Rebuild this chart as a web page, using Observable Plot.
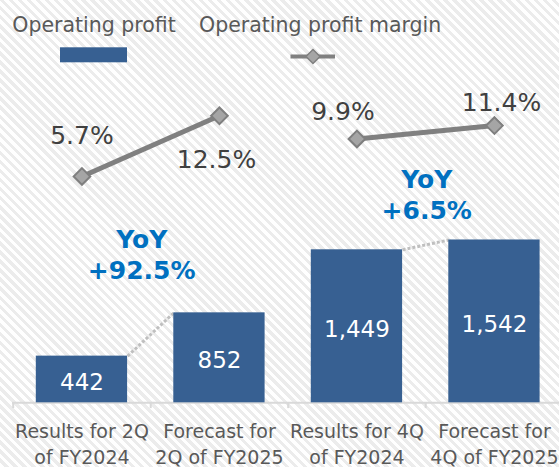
<!DOCTYPE html>
<html><head><meta charset="utf-8">
<script src="https://cdn.jsdelivr.net/npm/d3@7"></script>
<script src="https://cdn.jsdelivr.net/npm/@observablehq/plot@0.6"></script>
<style>
html,body{margin:0;padding:0;}
body{width:559px;height:467px;overflow:hidden;background:#fff repeating-linear-gradient(45deg,#ffffff 0px,#ffffff 3.2px,#ececec 3.2px,#ececec 6.4px);font-family:"DejaVu Sans",sans-serif;}
#legend{display:block;}
#chart{position:relative;width:559px;height:395px;}
#chart svg{position:absolute;left:0;top:0;}
</style></head><body>
<svg id="legend" width="559" height="72" font-family="DejaVu Sans">
<text x="12.3" y="31.7" font-size="20.5" fill="#595959">Operating profit</text>
<rect x="60" y="47.3" width="67" height="15" fill="#376092"></rect>
<text x="199" y="31.7" font-size="20.5" fill="#595959">Operating profit margin</text>
<line x1="290.5" x2="335" y1="56.5" y2="56.5" stroke="#808080" stroke-width="4"></line>
<path d="M313,49.5L320,56.5L313,63.5L306,56.5Z" fill="#a5a5a5" stroke="#7f7f7f" stroke-width="1.5"></path>
</svg>
<div id="chart"></div>
<script>
const categories = ["Results for 2Q\nof FY2024", "Forecast for\n2Q of FY2025", "Results for 4Q\nof FY2024", "Forecast for\n4Q of FY2025"];
const profit = [442, 852, 1449, 1542];
const profitLabels = ["442", "852", "1,449", "1,542"];
const margin = [5.7, 12.5, 9.9, 11.4];
const marginLabels = ["5.7%", "12.5%", "9.9%", "11.4%"];
const periodGroup = ["2Q", "2Q", "4Q", "4Q"];
const yoyLabels = ["YoY\n+92.5%", "YoY\n+6.5%"];
const yoyPairs = [[0, 1], [2, 3]];

const rows = categories.map((c, i) => ({i, category: c, profit: profit[i], label: profitLabels[i], margin: margin[i], mlabel: marginLabels[i], group: periodGroup[i]}));
const yoy = yoyPairs.map((p, k) => ({x: (p[0] + p[1]) / 2, y: Math.max(profit[p[0]], profit[p[1]]), text: yoyLabels[k], k}));

const W = 559, H = 395;
const halfBar = 0.332;
const xScale = {type: "linear", domain: [-0.5, 3.5], range: [12.7, 562.7], axis: null};
const common = {width: W, height: H, marginLeft: 12, marginRight: 0, marginTop: 0, marginBottom: 0,
  style: {background: "none", fontFamily: "DejaVu Sans", overflow: "visible"}};

const bars = Plot.plot({
  ...common,
  x: xScale,
  y: {domain: [0, 3128], range: [330.3, 0], axis: null},
  marks: [
    Plot.ruleY([0], {stroke: "#d9d9d9", strokeWidth: 2}),
    Plot.ruleX(rows, {x: d => d.i - 0.5, y1: 0, y2: -55, stroke: "#d9d9d9", strokeWidth: 2}),
    Plot.link(yoyPairs, {x1: p => p[0] + halfBar, y1: p => profit[p[0]], x2: p => p[1] - halfBar, y2: p => profit[p[1]], stroke: "#bfbfbf", strokeWidth: 3, strokeDasharray: "3 2"}),
    Plot.rectY(rows, {x1: d => d.i - halfBar, x2: d => d.i + halfBar, y: "profit", fill: "#376092"}),
    Plot.text(rows, {x: "i", y: d => d.profit / 2, text: "label", fill: "white", fontSize: 23, dy: 3}),
    Plot.text(rows, {x: "i", y: 0, text: "category", lineAnchor: "top", dy: 16.5, fontSize: 19, fill: "#595959", lineHeight: 1.368}),
    Plot.text(yoy, {filter: d => d.k === 0, x: "x", y: "y", text: "text", dx: -9, dy: -33.7, lineAnchor: "bottom", lineHeight: 1.26, fontSize: 25, fontWeight: "bold", fill: "#0070c0"}),
    Plot.text(yoy, {filter: d => d.k === 1, x: "x", y: "y", text: "text", dx: 1, dy: -21, lineAnchor: "bottom", lineHeight: 1.24, fontSize: 25, fontWeight: "bold", fill: "#0070c0"})
  ]
});

const lineChart = Plot.plot({
  ...common,
  x: xScale,
  y: {domain: [0, 17.354], range: [154.8, 0], axis: null},
  marks: [
    Plot.line(rows, {x: "i", y: "margin", z: "group", stroke: "#808080", strokeWidth: 5}),
    Plot.dot(rows, {x: "i", y: "margin", symbol: "diamond2", r: 7.5, fill: "#a5a5a5", stroke: "#7f7f7f", strokeWidth: 2}),
    Plot.text(rows, {filter: d => d.i === 0, x: "i", y: "margin", text: "mlabel", lineAnchor: "bottom", dx: 0, dy: -32.7, fontSize: 25, fill: "#404040"}),
    Plot.text(rows, {filter: d => d.i === 1, x: "i", y: "margin", text: "mlabel", lineAnchor: "bottom", dx: -3, dy: 52.7, fontSize: 25, fill: "#404040"}),
    Plot.text(rows, {filter: d => d.i === 2, x: "i", y: "margin", text: "mlabel", lineAnchor: "bottom", dx: -14, dy: -19, fontSize: 25, fill: "#404040"}),
    Plot.text(rows, {filter: d => d.i === 3, x: "i", y: "margin", text: "mlabel", lineAnchor: "bottom", dx: 7, dy: -14.7, fontSize: 25, fill: "#404040"})
  ]
});

const chart = document.getElementById("chart");
chart.appendChild(bars);
chart.appendChild(lineChart);
</script>
</body></html>
